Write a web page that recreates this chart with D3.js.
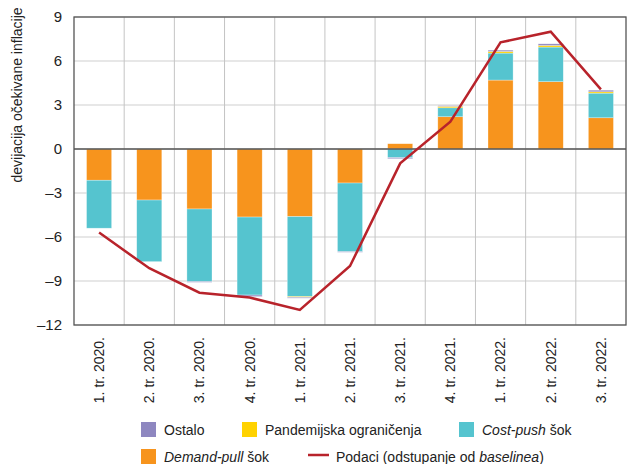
<!DOCTYPE html>
<html>
<head>
<meta charset="utf-8">
<script src="https://cdn.jsdelivr.net/npm/d3@7"></script>
<style>
body { margin: 0; background: #fff; }
svg { display: block; }
text { font-family: "Liberation Sans Narrow", "Arial Narrow", Arial, sans-serif; fill: #222; }
</style>
</head>
<body>
<script>
var quarters = ["1. tr. 2020.", "2. tr. 2020.", "3. tr. 2020.", "4. tr. 2020.", "1. tr. 2021.", "2. tr. 2021.",
  "3. tr. 2021.", "4. tr. 2021.", "1. tr. 2022.", "2. tr. 2022.", "3. tr. 2022."];

var demandPull = [-2.13, -3.48, -4.09, -4.64, -4.61, -2.32, 0.36, 2.2, 4.7, 4.59, 2.13];
var costPush = [-3.27, -4.2, -4.95, -5.32, -5.45, -4.68, -0.59, 0.61, 1.84, 2.36, 1.68];
var pandemic = [0, 0, 0, 0, -0.05, 0, 0, 0.1, 0.11, 0.11, 0.09];
var ostalo = [0, 0, -0.05, -0.1, -0.06, -0.04, -0.07, 0.05, 0.09, 0.11, 0.11];
var podaci = [-5.7, -8.13, -9.8, -10.13, -10.97, -7.98, -0.98, 1.86, 7.27, 8.0, 4.07];

var yTicks = [9, 6, 3, 0, -3, -6, -9, -12];

var width = 630, height = 464,
  margin = {top: 17, right: 4, bottom: 139, left: 74};
var w = width - margin.left - margin.right,
  h = height - margin.top - margin.bottom;

var svg = d3.select("body").append("svg").attr("width", width).attr("height", height)
var g = svg.append("g").attr("transform", `translate(${margin.left}, ${margin.top})`)

var x = d3.scaleBand().domain(quarters).range([0, w]).paddingInner(0.5).paddingOuter(0.25)
var xStep = d3.scaleBand().domain(quarters).range([0, w])
var y = d3.scaleLinear().domain([-12, 9]).range([h, 0])

// grid
g.selectAll(".hgrid").data(yTicks).enter().append("line")
  .attr("x1", 0).attr("x2", w)
  .attr("y1", function(d){return y(d)}).attr("y2", function(d){return y(d)})
  .attr("stroke", "#cfcfcf").attr("stroke-width", 1)
g.selectAll(".vgrid").data(quarters.slice(1)).enter().append("line")
  .attr("x1", function(d){return xStep(d)}).attr("x2", function(d){return xStep(d)})
  .attr("y1", 0).attr("y2", h)
  .attr("stroke", "#c4c4c4").attr("stroke-width", 1)

// stacked bars
var keys = ["demandPull", "costPush", "pandemic", "ostalo"];
var colors = {demandPull: "#f7941d", costPush: "#55c4cf", pandemic: "#ffd200", ostalo: "#8e87c0"};
var rows = quarters.map(function(q, i){
  return {q: q, demandPull: demandPull[i], costPush: costPush[i], pandemic: pandemic[i], ostalo: ostalo[i]};
});
var series = d3.stack().keys(keys).offset(d3.stackOffsetDiverging)(rows);

g.selectAll(".layer").data(series).enter().append("g")
  .attr("fill", function(d){return colors[d.key]})
  .selectAll("rect").data(function(d){return d}).enter().append("rect")
  .attr("x", function(d){return x(d.data.q)})
  .attr("width", x.bandwidth())
  .attr("y", function(d){return y(d[1])})
  .attr("height", function(d){return Math.abs(y(d[0]) - y(d[1]))})
  .attr("stroke", "#fff").attr("stroke-opacity", 0.5).attr("stroke-width", 0.6)

// zero line
g.append("line").attr("x1", 0).attr("x2", w).attr("y1", y(0)).attr("y2", y(0))
  .attr("stroke", "#555").attr("stroke-width", 1.3)

// data line
var line = d3.line()
  .x(function(d, i){return x(quarters[i]) + x.bandwidth() / 2})
  .y(function(d){return y(d)})
g.append("path").datum(podaci).attr("d", line)
  .attr("fill", "none").attr("stroke", "#b8232b").attr("stroke-width", 2.5)

// frame
g.append("rect").attr("x", 0).attr("y", 0).attr("width", w).attr("height", h)
  .attr("fill", "none").attr("stroke", "#555").attr("stroke-width", 1.3)

// y axis labels
g.selectAll(".ylab").data(yTicks).enter().append("text")
  .attr("x", -12).attr("y", function(d){return y(d)}).attr("dy", "0.36em")
  .attr("text-anchor", "end").attr("font-size", 15)
  .text(function(d){return d < 0 ? "\u2013" + Math.abs(d) : d})

svg.append("text").text("devijacija očekivane inflacije")
  .attr("transform", "translate(22, 95) rotate(-90)")
  .attr("text-anchor", "middle").attr("font-size", 14)

// x axis labels
g.selectAll(".xlab").data(quarters).enter().append("text")
  .attr("transform", function(d){return `translate(${x(d) + x.bandwidth() / 2}, ${h + 12}) rotate(-90)`})
  .attr("dy", "0.35em").attr("text-anchor", "end").attr("font-size", 14)
  .text(function(d){return d})

// legend
var legend = svg.append("g")
var items = [
  {c: colors.ostalo, x: 141, y: 422, t: [["Ostalo", false]]},
  {c: colors.pandemic, x: 242, y: 422, t: [["Pandemijska ograničenja", false]]},
  {c: colors.costPush, x: 459, y: 422, t: [["Cost-push", true], [" šok", false]]},
  {c: colors.demandPull, x: 141, y: 449, t: [["Demand-pull", true], [" šok", false]]}
];
items.forEach(function(it){
  legend.append("rect").attr("x", it.x).attr("y", it.y).attr("width", 15).attr("height", 15).attr("fill", it.c)
  var txt = legend.append("text").attr("x", it.x + 23).attr("y", it.y + 13).attr("font-size", 14)
  it.t.forEach(function(p){
    txt.append("tspan").attr("font-style", p[1] ? "italic" : "normal").text(p[0])
  })
})
legend.append("line").attr("x1", 308).attr("x2", 329).attr("y1", 455).attr("y2", 455)
  .attr("stroke", "#b8232b").attr("stroke-width", 2.5)
var lt = legend.append("text").attr("x", 336).attr("y", 462).attr("font-size", 14)
lt.append("tspan").text("Podaci (odstupanje od ")
lt.append("tspan").attr("font-style", "italic").text("baselinea")
lt.append("tspan").text(")")
</script>
</body>
</html>
